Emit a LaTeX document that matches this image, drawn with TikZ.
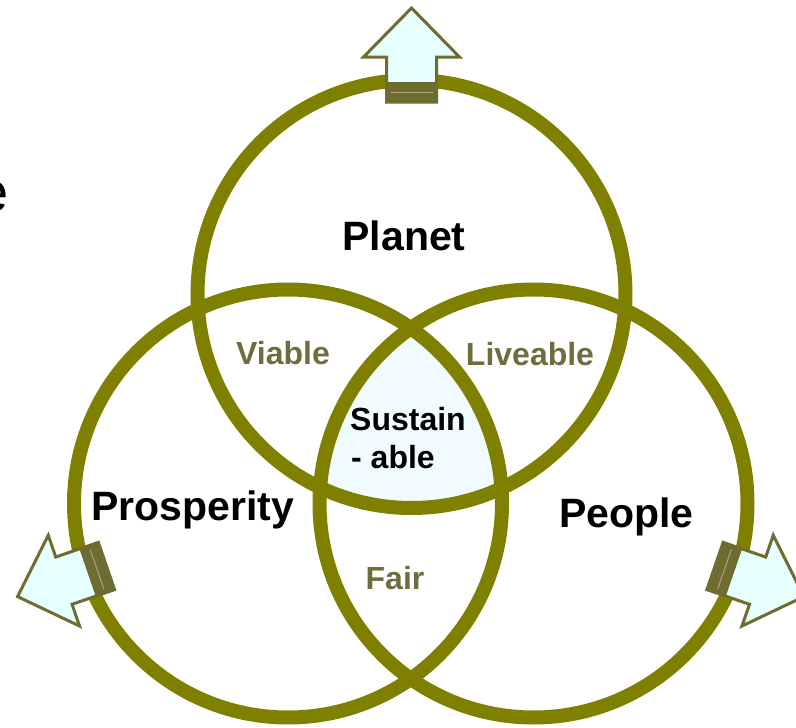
\documentclass[tikz,border=0pt]{standalone}
\usepackage{fontspec}
\setmainfont{Liberation Sans}
\usepackage{tikz}
\usepackage{xcolor}

\definecolor{ringolive}{RGB}{128,128,0}
\definecolor{arrowedge}{RGB}{110,108,48}
\definecolor{arrowfill}{RGB}{230,255,255}
\definecolor{arrowline}{RGB}{170,168,120}
\definecolor{corefill}{RGB}{240,251,255}
\definecolor{labelolive}{RGB}{112,108,62}

\tikzset{
  ring/.style={draw=ringolive, line width=14pt},
  bigword/.style={font=\fontsize{41}{48}\selectfont\bfseries, inner sep=0pt},
  smallword/.style={font=\fontsize{32}{38}\selectfont\bfseries, inner sep=0pt},
  arrowbody/.style={draw=arrowedge, fill=arrowfill, line width=3pt, line join=miter},
}

\begin{document}
\begin{tikzpicture}[x=1pt, y=-1pt]
                \useasboundingbox (0,0) rectangle (796,728);
                \coordinate (T) at (411.5,294);
                \coordinate (L) at (288,503.5);
                \coordinate (R) at (533.5,503.5);
                % middle part shared by all three
                \begin{scope}
                    \clip (T) circle[radius=214pt];
                    \clip (L) circle[radius=214pt];
                    \fill[corefill] (R) circle[radius=214pt];
                \end{scope}
                \draw[ring] (T) circle[radius=214pt];
                \draw[ring] (L) circle[radius=214pt];
                \draw[ring] (R) circle[radius=214pt];
                % arrows pointing out of the rings
                \foreach \c/\a in {T/90, L/199, R/-19}{
                    \begin{scope}[shift={(\c)}, rotate=\a]
                        \draw[arrowbody] (192,-25) -- (237,-25) -- (237,-48) -- (286,0) -- (237,48) -- (237,25) -- (192,25) -- cycle;
                        \fill[arrowedge] (192,-25) rectangle (212,25);
                        \draw[arrowline, line width=1pt] (202,-21) -- (202,21);
                    \end{scope}
                }
                \node[bigword, anchor=base] (planet) at (404,250) {Planet};
                \node[bigword, anchor=base] (prosperity) at (192.5,520) {Prosperity};
                \node[bigword, anchor=base] (people) at (626.5,527) {People};
                \node[smallword, text=labelolive, anchor=base] (viable) at (283,364) {Viable};
                \node[smallword, text=labelolive, anchor=base] (liveable) at (530,365) {Liveable};
                \node[smallword, text=labelolive, anchor=base] (fair) at (395,589) {Fair};
                \node[smallword, anchor=base west] (sustain) at (350,430) {Sustain};
                \node[smallword, anchor=base west] (able) at (351,468) {- able};
                \node[font=\fontsize{56}{60}\selectfont, inner sep=0pt, anchor=base east] (cut) at (9,211) {e};
            \end{tikzpicture}
\end{document}
